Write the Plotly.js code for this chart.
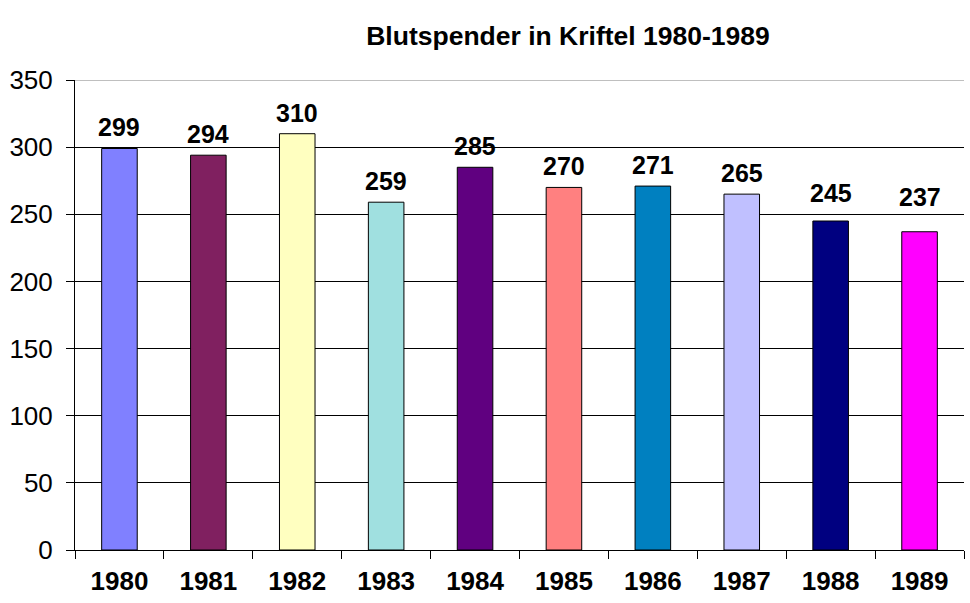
<!DOCTYPE html>
<html><head><meta charset="utf-8">
<script src="https://cdn.plot.ly/plotly-3.0.1.min.js"></script>
<style>html,body{margin:0;padding:0;background:#fff}#c{width:970px;height:603px}</style>
</head><body><div id="c"></div>
<script>
const years = ["1980","1981","1982","1983","1984","1985","1986","1987","1988","1989"];
const donors = [299, 294, 310, 259, 285, 270, 271, 265, 245, 237];
const barColors = ["#8080FF","#802060","#FFFFC0","#A0E0E0","#600080","#FF8080","#0080C0","#C0C0FF","#000080","#FF00FF"];
const yTicks = [0,50,100,150,200,250,300,350];
const chartTitle = "Blutspender in Kriftel 1980-1989";

// extra lift (px) of individual value labels, as placed in the original
const labelLift = [0, 0, 0, 0, 0, 0, 0, 0, 7, 14];

const trace = {
  type: "bar",
  x: years,
  y: donors,
  width: 0.4,
  marker: {color: barColors, line: {color: "#000", width: 1}},
  hoverinfo: "none"
};

// category axis: annotation x given as the category's index
const labelAnnotations = years.map((yr, i) => ({
  x: i, y: donors[i], xref: "x", yref: "y",
  text: "<b>" + donors[i] + "</b>",
  showarrow: false, xanchor: "center", yanchor: "bottom", yshift: 5 + labelLift[i],
  font: {family: "Liberation Sans, Arial", size: 25, color: "#000"}
}));

const layout = {
  width: 970, height: 603,
  margin: {l: 75, r: 6, t: 80, b: 53, pad: 0},
  paper_bgcolor: "#fff", plot_bgcolor: "#fff",
  showlegend: false,
  title: {text: "<b>" + chartTitle + "</b>", x: 568/970, xanchor: "center", y: 0.94, yanchor: "middle",
          font: {family: "Liberation Sans, Arial", size: 26.5, color: "#000"}},
  annotations: labelAnnotations,
  shapes: [{
    type: "line", xref: "paper", yref: "y", x0: 0, x1: 1,
    y0: yTicks[yTicks.length - 1], y1: yTicks[yTicks.length - 1],
    line: {color: "#808080", width: 1}, layer: "above"
  }],
  xaxis: {
    type: "category",
    categoryorder: "array", categoryarray: years,
    range: [-0.5, years.length - 0.5],
    showgrid: false,
    showline: true, linecolor: "#000", linewidth: 1,
    ticks: "outside", tickson: "boundaries", ticklen: 8, tickcolor: "#000",
    tickfont: {family: "Liberation Sans, Arial", size: 26, color: "#000", weight: "bold"},
    ticklabelstandoff: 8,
    zeroline: false
  },
  yaxis: {
    range: [0, 350],
    tickvals: yTicks,
    ticktext: yTicks.map(String),
    showgrid: true, gridcolor: "#000", gridwidth: 1,
    showline: true, linecolor: "#000", linewidth: 1,
    ticks: "outside", ticklen: 8, tickcolor: "#000",
    tickfont: {family: "Liberation Sans, Arial", size: 26, color: "#000"},
    ticklabelstandoff: 8,
    zeroline: false
  }
};

Plotly.newPlot("c", [trace], layout, {displayModeBar: false, staticPlot: true});
</script>
</body></html>
